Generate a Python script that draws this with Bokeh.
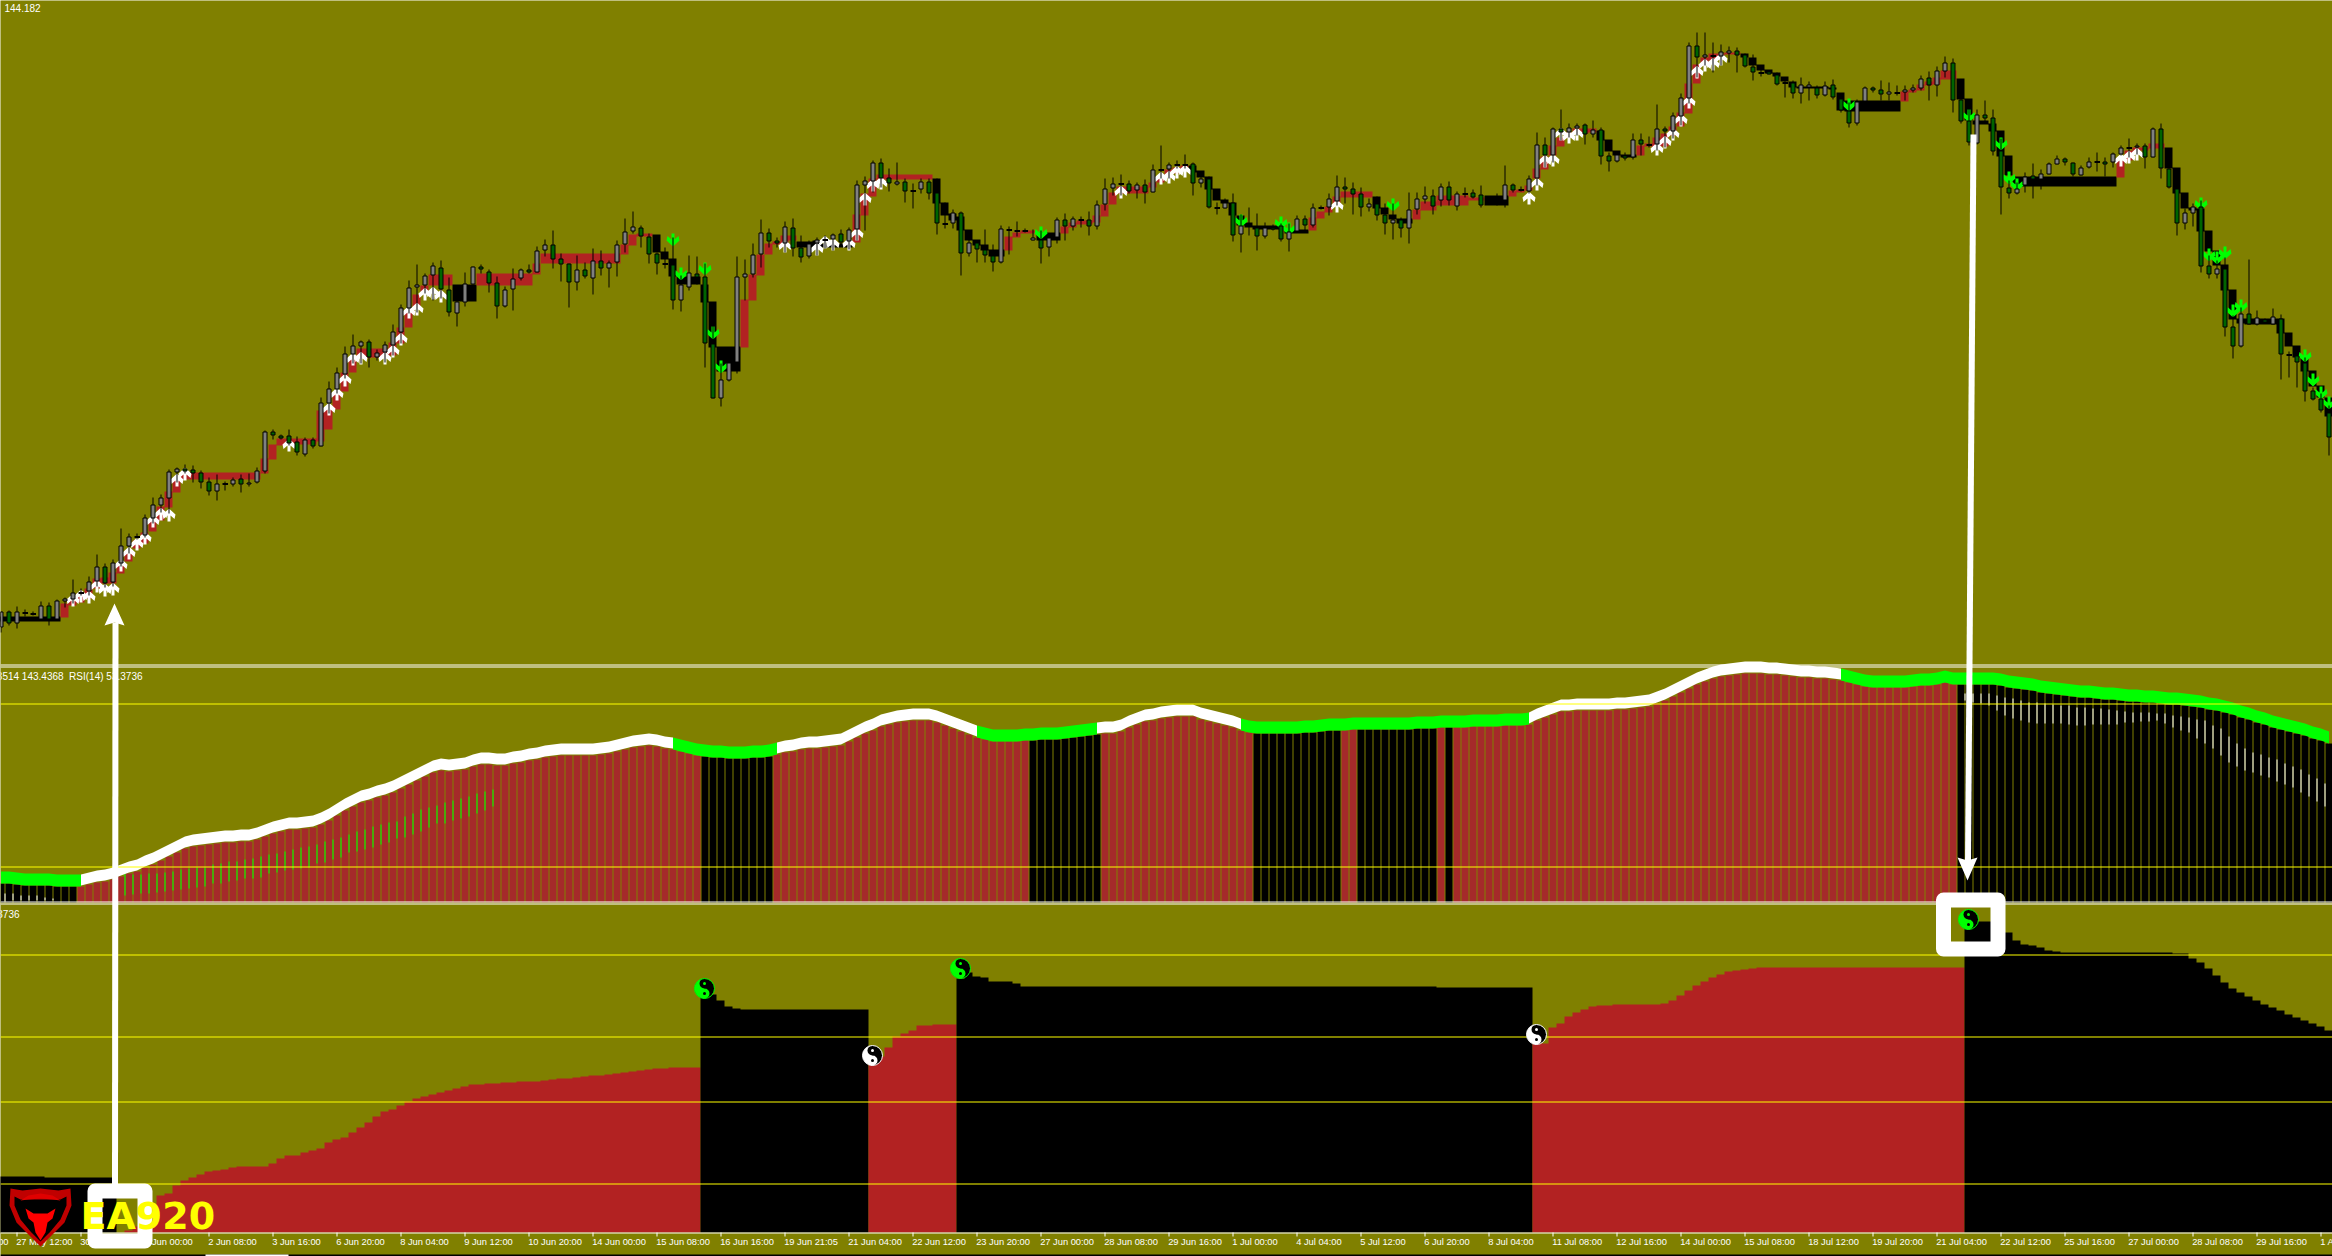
from bokeh.plotting import figure
from bokeh.embed import file_html
from bokeh.resources import INLINE
from bokeh.core.properties import value
import math

PANEL_LABEL_PRICE = "144.182"
PANEL_LABEL_RSI = "143.3514 143.4368\u00a0 RSI(14) 53.3736"
PANEL_LABEL_OSC = "53.3736"
LOGO_TEXT = "EA920"

candle_top = [611,611,611,612,613,605,605,600,598,592,
592,581,566,566,562,545,536,536,517,504,
497,471,468,468,469,472,481,483,483,479,
478,482,470,431,431,435,435,441,439,439,
402,388,372,353,345,341,341,352,344,331,
307,287,284,275,265,267,289,301,283,266,
266,271,282,289,278,269,269,250,244,244,
258,263,269,269,260,260,262,244,231,226,
227,236,253,263,264,284,272,273,276,343,
379,362,276,273,254,232,232,240,226,227,
247,243,239,239,234,233,229,184,180,162,
162,177,181,181,190,181,181,192,223,212,
212,242,242,249,255,228,229,230,230,237,
239,237,219,219,218,219,219,204,188,183,
183,183,184,184,169,169,164,164,164,163,
178,178,207,202,202,225,224,227,227,227,
225,231,218,218,207,207,198,186,186,188,
193,203,203,214,219,219,209,198,195,195,
186,186,193,193,192,194,199,198,184,184,
189,178,144,144,128,128,127,125,124,129,
129,155,154,155,139,139,144,128,128,115,
97,45,45,54,55,51,50,50,54,66,
72,71,74,82,82,84,84,87,85,84,
98,110,101,87,87,89,91,92,89,87,
78,77,70,62,62,99,120,114,114,117,
150,187,188,176,175,173,163,158,158,162,
167,161,161,161,153,147,147,145,145,128,
128,168,188,212,206,206,265,268,268,326,
313,313,317,319,316,318,354,355,362,390,398,412]
candle_bot = [627,623,623,612,613,619,619,619,601,599,
592,591,581,583,582,563,546,536,535,518,
505,498,472,471,473,482,491,491,483,484,
484,484,482,471,435,438,443,452,454,446,
446,403,389,374,354,346,357,357,352,345,
332,308,287,285,275,289,312,313,302,284,
269,283,306,306,289,278,272,272,250,259,
264,282,282,276,278,268,268,262,244,231,
236,254,263,263,300,300,287,277,343,398,
398,380,362,277,274,254,241,243,243,248,
257,256,243,239,239,242,241,229,185,181,
178,183,184,191,190,189,193,223,223,223,
253,253,249,255,262,262,229,230,230,240,
248,247,237,226,226,219,226,226,204,188,
183,191,190,192,192,169,169,164,164,183,
183,207,207,208,235,234,224,236,236,229,
239,239,231,225,225,207,207,201,189,194,
207,207,215,223,223,228,228,209,199,206,
200,200,206,193,197,205,199,198,200,190,
189,191,178,155,155,132,132,128,134,134,
156,161,161,158,157,144,144,144,131,131,
116,98,57,57,55,56,53,55,66,72,
72,74,84,82,93,93,87,95,95,97,
110,123,123,101,90,94,94,92,92,90,
88,85,85,71,100,121,142,143,118,151,
187,193,193,185,179,179,174,164,162,174,
175,167,161,164,162,154,147,147,157,157,
168,187,223,223,213,266,274,274,327,346,
346,324,324,322,324,354,354,362,391,399,410,437]
candle_hi = [611,610,606,609,611,601,602,599,597,579,
588,576,554,563,559,528,533,533,514,497,
494,469,467,464,465,470,477,474,481,477,
474,473,467,430,429,434,429,436,437,437,
397,381,367,346,334,340,339,349,341,324,
304,280,264,273,262,260,277,295,272,266,
264,269,276,286,268,268,264,246,239,230,
253,263,255,262,248,250,260,240,218,211,
225,233,252,247,237,275,255,256,263,325,
363,360,256,259,243,219,228,237,221,218,
235,240,237,235,233,229,227,180,176,160,
158,168,162,178,183,178,178,178,202,209,
211,235,240,229,244,225,226,221,228,229,
230,233,217,213,216,216,211,200,178,177,
174,180,182,179,164,145,162,160,154,162,
175,176,202,198,193,214,207,213,222,224,
223,223,215,215,203,205,193,175,177,182,
187,198,196,203,203,217,192,192,186,189,
183,181,191,187,189,185,197,193,165,183,
186,175,132,137,127,109,123,123,123,120,
127,152,151,152,133,133,136,104,126,112,
93,42,32,32,42,44,46,47,53,54,
68,70,72,77,80,77,81,85,81,79,
96,102,99,86,86,80,82,85,85,84,
75,71,66,56,58,97,108,109,100,109,
138,180,182,172,163,169,162,155,157,162,
165,157,152,157,152,145,138,143,143,127,
123,167,187,208,203,200,255,260,257,315,
307,259,310,318,308,314,351,350,357,387,393,405]
candle_lo = [632,625,628,616,615,619,625,619,607,603,
595,595,586,587,586,566,553,539,537,523,
512,513,482,473,482,488,495,500,490,486,
492,486,483,473,439,439,445,455,456,448,
446,413,393,378,363,363,367,360,362,355,
343,313,312,293,300,298,316,326,306,284,
273,292,318,307,310,280,273,272,256,268,
281,307,290,278,294,275,287,276,252,233,
247,263,274,268,309,311,290,284,367,398,
406,381,373,300,277,267,247,247,252,256,
262,258,255,248,250,246,249,240,230,192,
187,191,185,202,208,193,199,234,228,228,
275,256,262,262,271,263,254,236,232,240,
263,256,243,240,230,227,235,229,210,195,
195,193,198,203,192,178,178,168,168,195,
187,208,214,208,241,252,235,250,238,230,
241,251,231,230,227,209,215,205,203,214,
216,211,220,234,239,237,243,214,203,214,
206,205,210,197,198,207,204,205,207,192,
191,193,185,167,162,140,137,135,144,137,
164,171,162,160,159,155,147,150,147,138,
125,103,77,65,72,65,62,72,67,80,
76,74,85,97,98,103,100,98,96,99,
112,127,125,102,92,100,100,95,100,92,
90,100,96,77,112,123,145,144,122,155,
214,198,194,192,198,189,174,164,165,176,
175,168,171,176,167,155,157,154,168,157,
178,188,235,229,226,272,278,278,336,358,
347,324,325,323,324,379,377,387,401,400,412,455]
candle_dir = ("UDUCCUDUUU" "CUUDUUUCUU" "UUUDDDDUCU" "DUUUDDDDUD" "UUUUUUDUUU" "UUUUUDDUUU"
              "DDDUUUDUUD" "DDUDUDUUUU" "DDDCDUUDDD" "UUUUUUDDUD" "DUUCUDUUUU" "DDUDCUDDCU"
              "DUDDDUCCCU" "DUUDUCDUUU" "CDUDUCUCCD" "UDCUDUCDUD" "DUUDUCUUDD" "DUDDUDUUUD"
              "UDUCDDCCUD" "CUUDUDUUDU" "DDUDUDCUDU" "UUDUCUUDDD" "CDDCDUUDUD" "DDUUDDUCUU"
              "UDUUDDDUDD" "DDUUDUUUDD" "UUCDUUCUDU" "DDDUUDDUDD" "UDUDUDCDDDDD")

# Thick trend band behind the candles
band_top = ([616]*8 + [603,598,593,588,578,577,572,563,550,540,532,520,506,491,480] + [472]*10 +
            [458,444,438,438,438,438,438,410,409,392,372,357,348,348,348,348,342,327,310,294,285,274,274,274] +
            [284]*3 + [273]*7 + [263] + [253]*10 + [244,234,233,233,234,251,258,276,276,276,284,301,346,346,346,
            299,274,254,243,241,235,235,241,241,240,243,243,243,243,214,193,178] + [174]*7 +
            [178,202,213,216,229,239,244,249,249,236,232,230,230,232,232,232,226,222,220,220,215,204,192,
             186,186,186,186,182,178,169,167,165,165,170,176,188,199,202,215,222,225,225,225,225,229,229,229,
             217,211,206,196,191,191,191,191,196,207,214,218,218,209,201,201,195,195,195,195,197,197,195,195,195,
             190,189,185,168,156,145,137,132,128,128,128,130,139,150,154,154,145,143,137,133,126,112,83,64,57,
             53,53,52,52,53,57,64,69,72,76,81,86,86,86,86,87,92] + [100]*7 +
            [91,89,84,81,77,70,70,78,98,120,120,123,130,155] + [176]*13 +
            [160,150,147,147,143,143,147,167,192,207,208,230,250,264,289,318,318,318,318,318,318,332,345,357,370,385,397])
band_bot = ([621]*8 + [617,605,602,598,588,583,583,573,561,548,543,531,520,507,492] + [479]*10 +
            [473,459,445,444,444,444,444,441,429,409,391,372,357,357,357,357,355,343,327,308,292,285,285,285] +
            [301]*3 + [285]*7 + [274] + [263]*10 + [254,245,236,236,252,259,276,284,284,284,302,347,371,371,371,
            347,300,275,254,244,243,240,247,247,247,247,247,247,247,242,215,196] + [179]*7 +
            [203,215,220,230,240,245,250,256,256,250,237,233,233,240,240,240,233,227,224,224,222,216,204,
             193,193,193,193,187,182,177,173,170,172,177,189,200,203,215,225,227,229,229,229,229,233,233,233,
             230,218,212,205,197,197,197,197,208,214,219,223,223,219,210,210,205,205,205,205,200,200,205,205,205,
             196,192,190,178,169,155,146,137,133,133,132,140,151,155,157,157,155,146,148,146,135,126,113,83,64,
             60,57,54,54,57,65,70,73,76,81,87,88,88,88,88,89,110] + [111]*7 +
            [101,92,90,85,84,79,79,99,120,124,124,131,156,175] + [186]*13 +
            [177,160,153,150,148,148,168,193,208,210,231,251,265,290,319,323,324,324,324,324,333,346,357,371,386,397,416])
band_runs = [("K",0,7),("R",8,56),("K",57,59),("R",60,81),("K",82,92),("R",93,99),("K",100,106),("R",107,116),
             ("K",117,125),("R",126,129),("K",130,132),("R",133,148),("K",149,163),("R",164,171),("K",172,176),
             ("R",177,185),("K",186,188),("R",189,199),("K",200,204),("R",205,217),("K",218,237),("R",238,244),
             ("K",245,264),("R",265,270),("K",271,291)]

# Signal arrows: bar index and tip depth
up_bars = [9,10,11,12,13,14,15,16,17,18,19,20,21,22,23,36,41,42,43,44,45,48,49,50,51,52,53,54,55,
           98,102,103,104,106,107,108,109,110,140,145,146,147,148,167,191,192,193,194,195,196,197,
           207,208,209,210,211,212,213,214,215,265,266,267]
up_tips = [593,589,590,579,583,582,558,546,537,531,514,507,508,473,467,438,402,387,373,352,351,351,344,332,305,302,287,286,289,
           239,242,235,237,237,227,192,178,176,185,171,170,165,164,199,191,177,154,153,127,130,127,
           142,135,127,113,95,65,58,57,52,153,150,147]
down_bars = [84,85,88,89,90,130,155,160,161,174,231,246,250,251,252,275,276,277,278,279,280,288,289,290,291]
down_tops = [233,267,262,326,360,226,214,216,222,198,98,109,137,171,178,197,248,251,246,304,299,349,373,386,396]

# RSI histogram
rsi_bar = [883,883,884,885,885,885,885,886,886,886,886,884,882,881,879,876,873,871,867,864,
860,856,852,848,846,845,844,843,842,842,841,841,839,836,833,831,829,829,828,827,
824,820,815,810,806,802,800,797,795,792,788,784,780,776,772,770,771,770,769,766,
764,764,765,765,763,762,760,759,757,756,755,755,755,755,755,754,753,751,749,747,
746,745,746,748,749,751,753,755,756,757,757,758,758,758,757,757,756,754,752,751,
749,748,748,747,746,745,741,737,733,730,726,724,722,721,720,720,720,722,725,728,
731,734,737,739,741,741,741,741,740,740,739,739,739,738,737,736,735,734,733,733,
731,727,724,721,720,718,717,716,716,716,719,721,723,725,727,730,732,733,733,733,
733,733,733,732,732,731,730,730,730,729,729,729,729,729,729,729,729,728,728,728,
727,727,727,727,726,726,726,726,725,725,725,724,720,717,714,711,711,710,710,710,
710,710,709,709,708,707,706,703,700,696,692,688,684,681,678,676,675,674,673,673,
673,674,674,675,676,677,677,678,678,679,680,682,684,686,687,687,687,687,687,686,
685,685,684,682,684,684,684,684,684,684,685,687,688,689,690,692,693,694,695,696,
697,697,698,699,699,700,701,701,702,702,703,704,704,705,706,707,709,710,712,714,
717,719,722,724,727,729,731,733,735,738,740,743]
rsi_runs = [("K",0,9),("R",10,87),("K",88,96),("R",97,128),("K",129,137),("R",138,156),("K",157,167),
            ("R",168,169),("K",170,179),("R",180,180),("K",181,181),("R",182,244),("K",245,291)]
ma_runs = [("G",0,10),("W",10,84),("G",84,97),("W",97,122),("G",122,137),("W",137,155),("G",155,191),("W",191,230),("G",230,291)]

# Thin signal strokes in the gaps between histogram bars
sig_green_start = 15
sig_green_top = [873,874,874,873,873,872,871,869,868,867,867,864,863,861,861,859,858,856,854,853,851,849,847,846,844,841,839,837,834,831,829,826,824,822,821,816,813,809,807,805,802,800,798,796,793,791,789]
sig_green_bot = [895,894,893,893,892,891,890,889,888,887,886,883,883,881,880,878,878,877,873,872,870,869,868,867,863,862,859,857,852,851,849,847,844,842,838,837,834,831,827,823,823,820,818,816,813,810,806]
sig_white_start = 245
sig_white_top = [693,693,693,693,695,697,698,700,702,702,703,704,705,705,707,707,708,708,709,710,711,712,712,712,713,713,715,716,717,719,720,725,728,736,743,748,752,754,757,759,763,766,769,774,778,783]
sig_white_bot = [700,702,703,705,710,715,718,720,722,723,723,723,723,724,725,725,724,724,724,724,722,722,721,721,720,723,727,730,732,738,743,748,755,762,766,770,772,775,777,781,784,787,792,796,801,806]
sig_left_bars = [0,1,2,3,4,5,6]
sig_left_top = [893,893,895,895,895,897,898]
sig_left_bot = [901,900,900,900,900,900,900]

# Lower oscillator, column tops
osc_top = ([1176]*6 + [1177]*9 + [1232,1230,1226,1218,1205,1195,1193,1185,1180,1177,1174,1171,1170,1169,1167,1166,1166,1166,1166,
           1163,1158,1155,1155,1152,1150,1148,1142,1139,1137,1132,1127,1122,1116,1111,1109,1105,1101,
           1098,1096,1094,1092,1090,1088,1086,1084,1084,1083,1083,1082,1082,1081,1081,1081,1080,1079,1078,1078,
           1077,1076,1075,1075,1074,1073,1072,1071,1070,1069,1068,1068,1067,1067,1067,1067,
           994,994,1000,1006,1008] + [1009]*16 + [1062,1056,1047,1036,1033,1030,1025,1025,1024,1024,1024,
           978,972,976,977,981,981,981,983] + [986]*52 + [987]*12 +
           [1043,1043,1027,1023,1016,1012,1009,1006,1005,1005,1004,1004,1004,1004,1004,1004,
            1003,1000,995,990,985,981,977,974,971,970,969,968] + [967]*26 +
           [921,921,921,921,928,932,940,944,945,947,950,951] + [952]*14 + [953,953,958,962,968,975,982,988,
            992,996,1000,1004,1007,1010,1014,1017,1020,1023,1026,1030])
osc_runs = [("K",0,14),("R",15,87),("K",88,108),("R",109,119),("K",120,191),("R",192,245),("K",246,291)]

yin_bars = [88,120,109,192,246]
yin_y = [988,968,1055,1034,919]
yin_col = ["#00FF00","#00FF00","#FFFFFF","#FFFFFF","#00FF00"]

tick_bars = [-6+8*k for k in range(38)]
tick_labels = ["26 May 04:00","27 May 12:00","30 May 16:00","1 Jun 00:00","2 Jun 08:00","3 Jun 16:00","6 Jun 20:00","8 Jun 04:00",
               "9 Jun 12:00","10 Jun 20:00","14 Jun 00:00","15 Jun 08:00","16 Jun 16:00","19 Jun 21:05","21 Jun 04:00",
               "22 Jun 12:00","23 Jun 20:00","27 Jun 00:00","28 Jun 08:00","29 Jun 16:00","1 Jul 00:00","4 Jul 04:00",
               "5 Jul 12:00","6 Jul 20:00","8 Jul 04:00","11 Jul 08:00","12 Jul 16:00","14 Jul 00:00","15 Jul 08:00",
               "18 Jul 12:00","19 Jul 20:00","21 Jul 04:00","22 Jul 12:00","25 Jul 16:00","27 Jul 00:00","28 Jul 08:00",
               "29 Jul 16:00","1 Aug 00:00"]
rsi_levels = [703.5, 866.5]
osc_levels = [954.5, 1036.5, 1101.5, 1183.5]
separators = [664.5, 666.5, 901.5, 903.5]

for name, arr in [("ct",candle_top),("cb",candle_bot),("ch",candle_hi),("cl",candle_lo),("cd",candle_dir),
                  ("bt",band_top),("bb",band_bot),("rsi",rsi_bar),("osc",osc_top)]:
    assert len(arr) == 292, (name, len(arr))
assert len(up_bars)==len(up_tips) and len(down_bars)==len(down_tops)
assert len(sig_green_top)==len(sig_green_bot) and len(sig_white_top)==len(sig_white_bot)
assert len(tick_bars)==len(tick_labels)

OLIVE, RED, BROWN, LIME, YEL = "#808000", "#B22222", "#A52A2A", "#00FF00", "#FFFF00"
W, H = 2332, 1256
def X(px):
    return (px - 0.5) / 8

p = figure(width=W, height=H, x_range=(X(0), X(W)), y_range=(H, 0),
           x_axis_type=None, y_axis_type=None, toolbar_location=None, output_backend="svg",
           background_fill_color=OLIVE, border_fill_color=OLIVE, min_border=0, outline_line_color=None)
p.grid.visible = False

N = 292
def step_area(a, b, upper, lower, col):
    xs, u, l = [], [], []
    for i in range(a, b+1):
        xs += [i-0.5625, i+0.4375]
        u += [upper[i], upper[i]]
        l += [lower[i], lower[i]]
    p.varea(x=xs, y1=u, y2=l, fill_color=col)

# --- price panel
for k, a, b in band_runs:
    step_area(a, b, band_top, band_bot, RED if k == "R" else "#000000")

ARW_X = [-1.5,1.5,1.5,5.5,6.5,0.5,0.5,-0.5,-0.5,-6.5,-5.5,-1.5]
ARW_Y = [0,0,6,2.5,7,12.5,12.5,12.5,12.5,7,2.5,6]
p.patches(xs=[[i+v/8 for v in ARW_X] for i in down_bars],
          ys=[[t+v for v in ARW_Y] for t in down_tops], fill_color=LIME, line_color=None)
p.patches(xs=[[i+v/8 for v in ARW_X] for i in up_bars],
          ys=[[t+13-v for v in ARW_Y] for t in up_tips], fill_color="#FFFFFF", line_color=None)

p.segment(x0=list(range(N)), x1=list(range(N)), y0=candle_hi, y1=candle_lo, line_color="#000000", line_width=1)
for kind, col in (("U","#808080"),("D","#006400")):
    idx = [i for i in range(N) if candle_dir[i]==kind]
    p.vbar(x=idx, width=0.5, top=[candle_top[i]+0.5 for i in idx], bottom=[candle_bot[i]-0.5 for i in idx],
           fill_color=col, line_color="#000000", line_width=1)
idx = [i for i in range(N) if candle_dir[i]=="C"]
p.segment(x0=[i-0.31 for i in idx], x1=[i+0.38 for i in idx], y0=[candle_top[i]+0.5 for i in idx], y1=[candle_top[i]+0.5 for i in idx],
          line_color="#000000", line_width=2)

# --- RSI panel
for k, a, b in rsi_runs:
    col = BROWN if k == "R" else "#000000"
    idx = list(range(a, b+1))
    p.vbar(x=idx, width=0.875, top=[rsi_bar[i] for i in idx], bottom=902, fill_color=col, line_color=None)
sx = [i+sig_green_start+0.5 for i in range(len(sig_green_top))]
p.segment(x0=sx, x1=sx, y0=sig_green_top, y1=sig_green_bot, line_color=LIME, line_width=1)
sx = [i+sig_white_start+0.5 for i in range(len(sig_white_top))]
p.segment(x0=sx, x1=sx, y0=sig_white_top, y1=sig_white_bot, line_color="#FFFFFF", line_width=1)
sx = [i+0.5 for i in sig_left_bars]
p.segment(x0=sx, x1=sx, y0=sig_left_top, y1=sig_left_bot, line_color="#FFFFFF", line_width=1)
for k, a, b in ma_runs:
    idx = list(range(a, b+1))
    gap = 1 if k == "W" else 0
    p.varea(x=idx, y1=[rsi_bar[i]-12 for i in idx], y2=[rsi_bar[i]-gap for i in idx],
            fill_color="#FFFFFF" if k == "W" else LIME)
p.segment(x0=[X(0)]*2, x1=[X(W)]*2, y0=rsi_levels, y1=rsi_levels, line_color=YEL, line_width=1)

# --- oscillator panel
floor = [1232]*N
for k, a, b in osc_runs:
    step_area(a, b, osc_top, floor, RED if k == "R" else "#000000")
p.segment(x0=[X(0)]*4, x1=[X(W)]*4, y0=osc_levels, y1=osc_levels, line_color=YEL, line_width=1)

# --- separators and time axis
p.segment(x0=[X(0)]*5, x1=[X(W)]*5, y0=separators+[1232.5], y1=separators+[1232.5], line_color="#FFFFFF", line_width=1)
p.segment(x0=tick_bars, x1=tick_bars, y0=[1232]*38, y1=[1236]*38, line_color="#FFFFFF", line_width=1)
p.text(x=[i-0.1 for i in tick_bars], y=[1241]*38, text=tick_labels, text_color="#FFFFFF", text_align="left",
       text_baseline="middle", text_font=value("Liberation Sans"), text_font_size="9.3px")
p.segment(x0=[X(0)], x1=[X(W)], y0=[1255], y1=[1255], line_color="#000000", line_width=2)
p.segment(x0=[X(205)], x1=[X(288)], y0=[1255], y1=[1255], line_color="#FFFFFF", line_width=2)

# --- yin-yang marks
for i, y, c in zip(yin_bars, yin_y, yin_col):
    x = i - 0.0625
    p.scatter(x=[x], y=[y], size=20, marker="circle", fill_color="#000000", line_color=None)
    p.wedge(x=[x], y=[y], radius=10, radius_units="screen", start_angle=math.radians(90), end_angle=math.radians(270),
            fill_color=c, line_color=None)
    p.scatter(x=[x], y=[y+5], size=10, marker="circle", fill_color=c, line_color=None)
    p.scatter(x=[x], y=[y-5], size=10, marker="circle", fill_color="#000000", line_color=None)
    p.scatter(x=[x], y=[y-5], size=3, marker="circle", fill_color=c, line_color=None)
    p.scatter(x=[x], y=[y+5], size=3, marker="circle", fill_color="#000000", line_color=None)
    p.scatter(x=[x], y=[y], size=20, marker="circle", fill_color=None, line_color=c, line_width=1)

# --- hand drawn annotations
p.quad(left=[X(94.5), X(1943)], right=[X(144.5), X(1997.5)], top=[1190.5, 899.5], bottom=[1240.5, 948.5],
       fill_alpha=0, line_color="#FFFFFF", line_width=15, line_join="round")
p.line(x=[X(115), X(114.5)], y=[622, 1190], line_color="#FFFFFF", line_width=6)
p.line(x=[X(1973), X(1967.5)], y=[134, 862], line_color="#FFFFFF", line_width=6)
p.patch(x=[X(v) for v in (114,104,114,124)], y=[603,625,622,625], fill_color="#FFFFFF", line_color=None)
p.patch(x=[X(v) for v in (1967,1957,1967,1977)], y=[880,857,860,857], fill_color="#FFFFFF", line_color=None)

# --- logo
def logo(points, col):
    p.patch(x=[X(a) for a, b in points], y=[b for a, b in points], fill_color=col, line_color=None)
logo([(10,1188),(22,1190),(40,1188),(58,1190),(70,1188),(71,1205),(64,1222),(52,1234),(40,1246),(28,1234),(16,1222),(9,1205)], "#C00000")
logo([(14,1196),(20,1199),(60,1199),(66,1196),(66,1205),(60,1219),(50,1231),(40,1241),(30,1231),(20,1219),(14,1205)], "#000000")
logo([(20,1200),(28,1195),(40,1193),(52,1195),(60,1200),(52,1199),(40,1198),(28,1199)], "#E00000")
logo([(25,1208),(33,1213),(47,1213),(55,1208),(52,1218),(47,1222),(45,1232),(40,1240),(35,1232),(33,1222),(28,1218)], "#FF0000")
p.text(x=[X(80)], y=[1215], text=[LOGO_TEXT], text_color=YEL, text_align="left", text_baseline="middle",
       text_font=value("DejaVu Sans"), text_font_style="bold", text_font_size="38px")

# --- panel captions
p.text(x=[X(4)], y=[7.5], text=[PANEL_LABEL_PRICE], text_color="#FFFFFF", text_align="left", text_baseline="middle",
       text_font=value("Liberation Sans"), text_font_size="10px")
p.text(x=[X(142)], y=[675.5], text=[PANEL_LABEL_RSI], text_color="#FFFFFF", text_align="right", text_baseline="middle",
       text_font=value("Liberation Sans"), text_font_size="10px")
p.text(x=[X(19)], y=[913.5], text=[PANEL_LABEL_OSC], text_color="#FFFFFF", text_align="right", text_baseline="middle",
       text_font=value("Liberation Sans"), text_font_size="10px")

open("out.html", "w").write(file_html(p, INLINE))
